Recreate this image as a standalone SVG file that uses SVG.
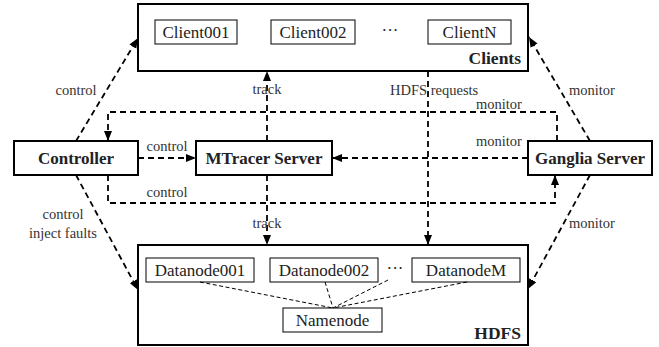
<svg xmlns="http://www.w3.org/2000/svg" width="659" height="347" viewBox="0 0 659 347">
<defs>
<marker id="ah" viewBox="0 0 10 10" refX="10" refY="5" markerWidth="10" markerHeight="10" markerUnits="userSpaceOnUse" orient="auto">
<path d="M0,1 L10,5 L0,9 z" fill="#000"/>
</marker>
<style>
.big{fill:#fff;stroke:#000;stroke-width:2}
.small{fill:#fff;stroke:#000;stroke-width:1}
.t{font-family:"Liberation Serif","Times New Roman",serif;fill:#222}
.n{font-size:17px;text-anchor:middle}
.b{font-size:17px;font-weight:bold;text-anchor:middle}
.br{font-size:17.5px;font-weight:bold;text-anchor:end}
.l{font-size:14.5px;fill:#333}
.c{text-anchor:middle}
.e{fill:none;stroke:#000;stroke-width:1.8;stroke-dasharray:6,4}
.d{fill:none;stroke:#000;stroke-width:1;stroke-dasharray:4,2.5}
</style>
</defs>
<rect width="659" height="347" fill="#fff"/>

<g id="clients">
<rect class="big" x="138" y="4" width="390" height="67"/>
<text class="t br" x="521" y="64">Clients</text>
</g>
<g id="client001"><rect class="small" x="155" y="20" width="82" height="24"/><text class="t n" x="196" y="38">Client001</text></g>
<g id="client002"><rect class="small" x="271" y="20" width="84" height="24"/><text class="t n" x="313" y="38">Client002</text></g>
<g id="clientdots"><text class="t n" x="390" y="36">···</text></g>
<g id="clientN"><rect class="small" x="428" y="20" width="83" height="24"/><text class="t n" x="469.5" y="38">ClientN</text></g>

<g id="controller"><rect class="big" x="14" y="141" width="124" height="34"/><text class="t b" x="76" y="164">Controller</text></g>
<g id="mtracer"><rect class="big" x="196" y="141" width="136" height="34"/><text class="t b" x="264" y="164">MTracer Server</text></g>
<g id="ganglia"><rect class="big" x="528" y="141" width="124" height="34"/><text class="t b" x="590" y="164">Ganglia Server</text></g>

<g id="hdfs">
<rect class="big" x="138" y="245" width="390" height="100"/>
<text class="t br" x="521" y="339">HDFS</text>
</g>
<g id="datanode001"><rect class="small" x="146" y="258" width="108" height="24"/><text class="t n" x="200" y="276">Datanode001</text></g>
<g id="datanode002"><rect class="small" x="270" y="258" width="108" height="24"/><text class="t n" x="324" y="276">Datanode002</text></g>
<g id="datanodedots"><text class="t n" x="395" y="274">···</text></g>
<g id="datanodeM"><rect class="small" x="412" y="258" width="108" height="24"/><text class="t n" x="466" y="276">DatanodeM</text></g>
<g id="namenode"><rect class="small" x="283" y="308" width="99" height="24"/><text class="t n" x="332.5" y="326">Namenode</text></g>

<g id="connectors">
<path class="e" d="M76,141 L138,38" marker-end="url(#ah)"/>
<path class="e" d="M138,158 L196,158" marker-end="url(#ah)"/>
<path class="e" d="M267,141 L267,71" marker-end="url(#ah)"/>
<path class="e" d="M428,71 L428,245" marker-end="url(#ah)"/>
<path class="e" d="M557,141 L557,112 L108,112 L108,141" marker-end="url(#ah)"/>
<path class="e" d="M528,158 L332,158" marker-end="url(#ah)"/>
<path class="e" d="M590,141 L529,37" marker-end="url(#ah)"/>
<path class="e" d="M108,175 L108,203 L555,203 L555,175" marker-end="url(#ah)"/>
<path class="e" d="M267,175 L267,245" marker-end="url(#ah)"/>
<path class="e" d="M76,175 L138,290" marker-end="url(#ah)"/>
<path class="e" d="M590,175 L528,289" marker-end="url(#ah)"/>
<path class="d" d="M200,282 L333,308"/>
<path class="d" d="M325,282 L333,308"/>
<path class="d" d="M388,280 L333,308"/>
<path class="d" d="M467,282 L333,308"/>
</g>

<g id="labels">
<text class="t l c" x="76" y="95">control</text>
<text class="t l c" x="167" y="151">control</text>
<text class="t l c" x="267" y="94">track</text>
<text class="t l" x="390" y="95">HDFS requests</text>
<text class="t l c" x="499" y="109">monitor</text>
<text class="t l c" x="499" y="146">monitor</text>
<text class="t l" x="569" y="95">monitor</text>
<text class="t l c" x="167" y="197">control</text>
<text class="t l c" x="267" y="228">track</text>
<text class="t l c" x="63" y="219">control</text>
<text class="t l c" x="63" y="238">inject faults</text>
<text class="t l" x="569" y="228">monitor</text>
</g>
</svg>
